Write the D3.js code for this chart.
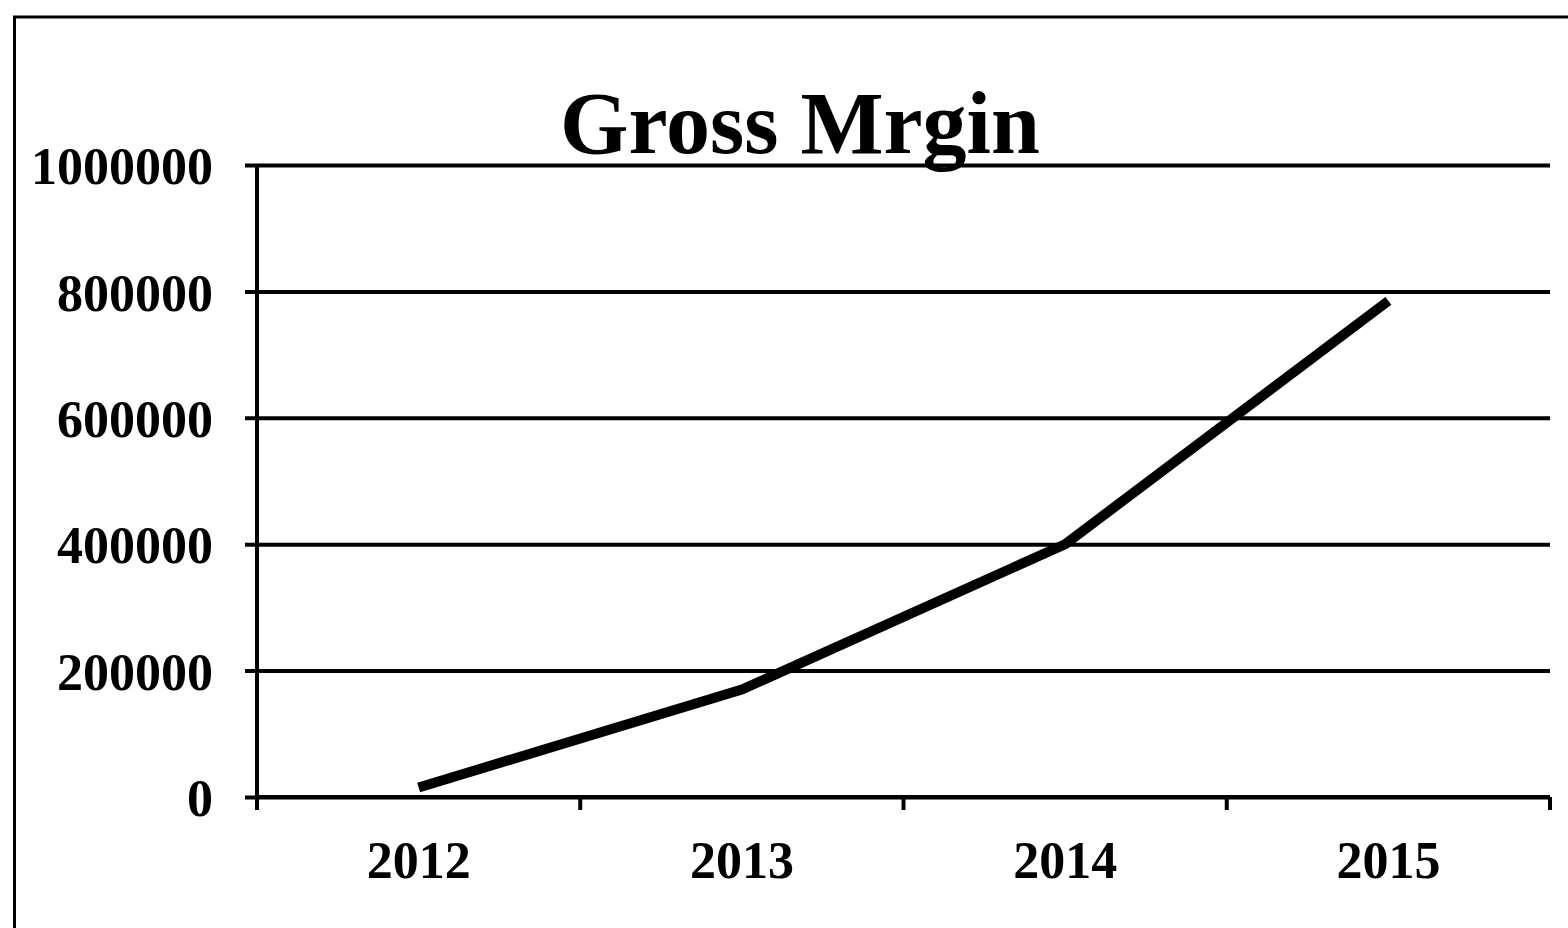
<!DOCTYPE html>
<html>
<head>
<meta charset="utf-8">
<script src="https://cdn.jsdelivr.net/npm/d3@7"></script>
<style>
  body { margin: 0; background: #fff; }
  text { font-family: "Liberation Serif", serif; font-weight: bold; fill: #000; }
</style>
</head>
<body>
<script>
// data
const years = ["2012", "2013", "2014", "2015"];
const grossMargin = [15000, 170000, 400000, 785000];
const yTicks = [0, 200000, 400000, 600000, 800000, 1000000];

const W = 1568, H = 928;
const m = { top: 165, right: 18, bottom: 131, left: 257 };
const w = W - m.left - m.right;
const h = H - m.top - m.bottom;

const svg = d3.select("body").append("svg")
    .attr("width", W)
    .attr("height", H);

// outer chart border (runs off the right and bottom edge)
svg.append("rect")
    .attr("x", 14.5).attr("y", 17)
    .attr("width", W).attr("height", H)
    .attr("fill", "none")
    .attr("stroke", "#000")
    .attr("stroke-width", 3);

const g = svg.append("g").attr("transform", "translate(" + m.left + "," + m.top + ")");

const x = d3.scaleBand().domain(years).range([0, w]);
const y = d3.scaleLinear().domain([0, 1000000]).range([h, 0]);

// gridlines with outward ticks
const yAxis = d3.axisLeft(y)
    .tickValues(yTicks)
    .tickFormat(d3.format("d"))
    .tickSize(-w).tickSizeOuter(0).tickPadding(44);
const ya = g.append("g").call(yAxis);
ya.select(".domain").remove();
ya.selectAll(".tick line")
    .attr("x1", -12)
    .attr("stroke", "#000")
    .attr("stroke-width", 4);
ya.selectAll(".tick text")
    .attr("font-size", 52)
    .attr("dy", "0.36em");

// vertical axis line
g.append("line")
    .attr("x1", 0).attr("x2", 0)
    .attr("y1", 0).attr("y2", h + 13)
    .attr("stroke", "#000")
    .attr("stroke-width", 4);

// x axis: ticks at band boundaries
const xa = g.append("g").attr("transform", "translate(0," + h + ")");
xa.append("line")
    .attr("x1", 0).attr("x2", w)
    .attr("stroke", "#000")
    .attr("stroke-width", 4);
xa.selectAll(".bt")
    .data(years.concat(["end"]))
    .enter().append("line")
    .attr("class", "bt")
    .attr("x1", (d, i) => i < years.length ? x(d) : x(years[years.length - 1]) + x.bandwidth())
    .attr("x2", (d, i) => i < years.length ? x(d) : x(years[years.length - 1]) + x.bandwidth())
    .attr("y1", 0).attr("y2", 13)
    .attr("stroke", "#000")
    .attr("stroke-width", 4);
xa.selectAll(".yl")
    .data(years)
    .enter().append("text")
    .attr("class", "yl")
    .attr("x", d => x(d) + x.bandwidth() / 2)
    .attr("y", 81)
    .attr("text-anchor", "middle")
    .attr("font-size", 52)
    .text(d => d);

// the line
const line = d3.line()
    .x((d, i) => x(years[i]) + x.bandwidth() / 2)
    .y(d => y(d));
g.append("path")
    .datum(grossMargin)
    .attr("d", line)
    .attr("fill", "none")
    .attr("stroke", "#000")
    .attr("stroke-width", 10)
    .attr("stroke-linejoin", "round");

// title
svg.append("text")
    .attr("x", 800)
    .attr("y", 153)
    .attr("text-anchor", "middle")
    .attr("font-size", 88)
    .text("Gross Mrgin");
</script>
</body>
</html>
